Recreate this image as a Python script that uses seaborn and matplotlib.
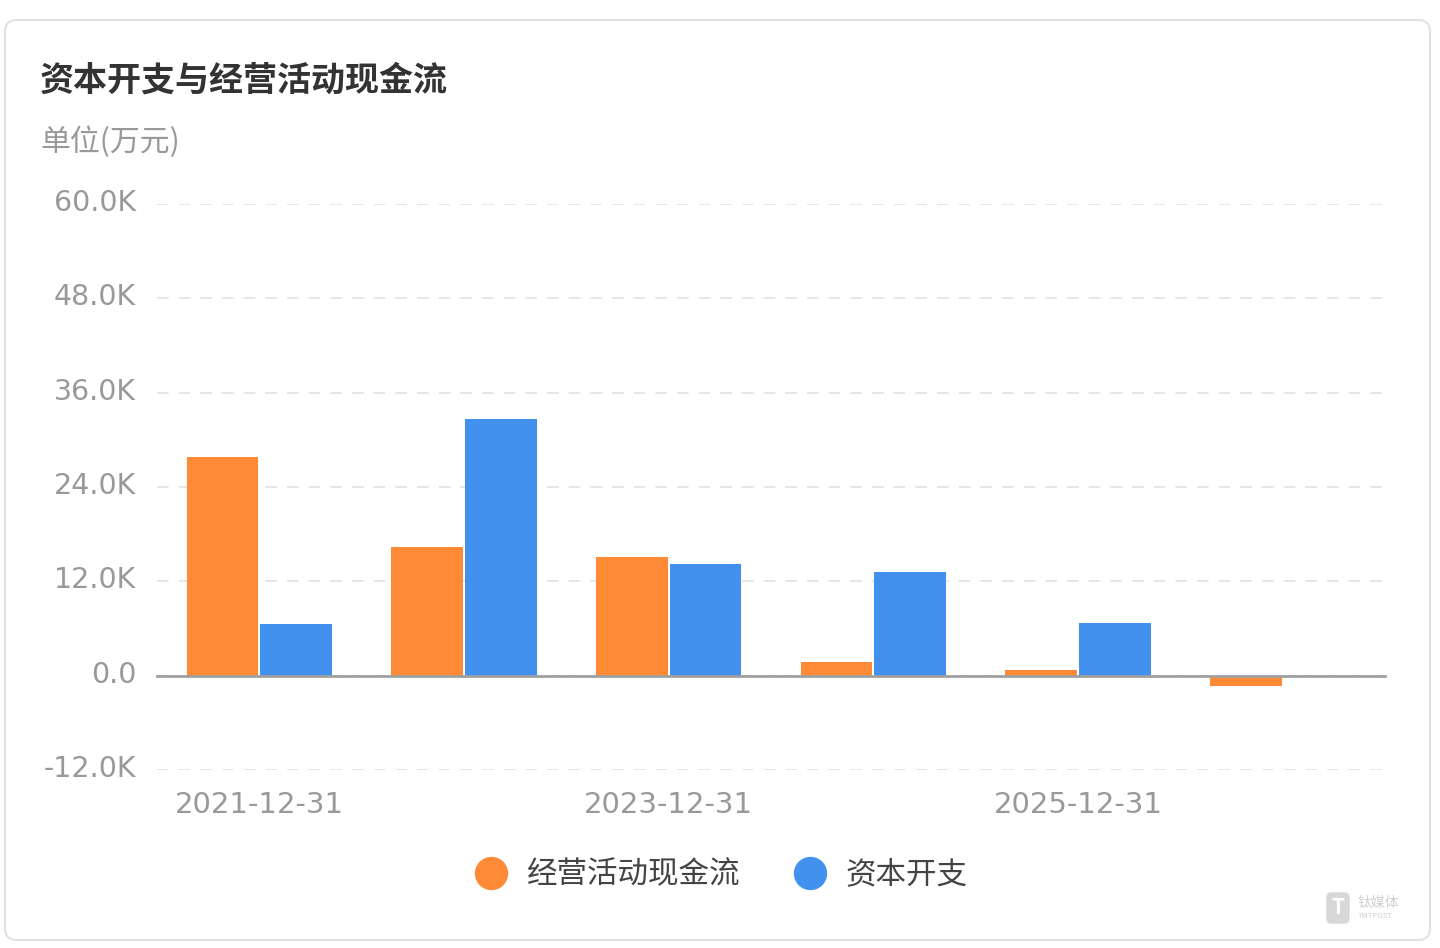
import numpy as np
import pandas as pd
import matplotlib
matplotlib.use("Agg")
import matplotlib.pyplot as plt
import seaborn as sns
from matplotlib.patches import FancyBboxPatch
from matplotlib.lines import Line2D
from matplotlib.ticker import FuncFormatter, MultipleLocator
from matplotlib.transforms import ScaledTranslation

# ---- data ----
dates = ["2021-12-31", "2022-12-31", "2023-12-31", "2024-12-31", "2025-12-31", "2026-12-31"]
series_names = ["经营活动现金流", "资本开支"]
ocf = [27800, 16400, 15100, 1800, 700, -1350]
capex = [6600, 32600, 14200, 13200, 6750, np.nan]
shown_ticks = [0, 2, 4]

title = "资本开支与经营活动现金流"
unit = "单位(万元)"

orange = "#FF8A35"
blue = "#4391EE"

sns.set_style("white")
plt.rcParams["font.family"] = ["Noto Sans CJK SC", "DejaVu Sans"]

df = pd.DataFrame({
    "date": dates * 2,
    "series": [series_names[0]] * len(dates) + [series_names[1]] * len(dates),
    "value": ocf + capex,
})

W, H = 1440, 948
fig = plt.figure(figsize=(W / 100, H / 100), dpi=100)
fig.patch.set_facecolor("white")

card = FancyBboxPatch((5 / W, 1 - 940 / H), 1425 / W, 920 / H,
                      boxstyle="round,pad=0,rounding_size=0.008",
                      mutation_aspect=W / H,
                      transform=fig.transFigure, facecolor="white",
                      edgecolor="#e2e2e2", linewidth=1.5, zorder=-5)
fig.patches.append(card)

ax = fig.add_axes([157 / W, 1 - 770 / H, (1385 - 157) / W, (770 - 204) / H])
ax.set_facecolor("none")
ax.set_zorder(2)

sns.barplot(data=df, x="date", y="value", hue="series", hue_order=series_names,
            palette=[orange, blue], width=0.72, gap=0.03, saturation=1,
            legend=False, ax=ax, zorder=3, edgecolor="none")

ax.set_xlim(-0.5, len(dates) - 0.5)
ax.set_ylim(-12000, 60000)
ax.yaxis.set_major_locator(MultipleLocator(12000))
ax.yaxis.set_major_formatter(FuncFormatter(lambda v, p: "0.0" if v == 0 else f"{v/1000:.1f}K"))
ax.set_xlabel("")
ax.set_ylabel("")

ax.grid(axis="y", color="#e2e2e2", linestyle=(0, (7, 6)), linewidth=1.2, zorder=0)
ax.grid(axis="x", visible=False)
ax.set_axisbelow(True)
for s in ["top", "right", "left"]:
    ax.spines[s].set_visible(False)
ax.spines["bottom"].set_position(("data", 0))
ax.spines["bottom"].set_color("#a0a0a0")
ax.spines["bottom"].set_linewidth(2)
ax.spines["bottom"].set_zorder(4)

ax.set_xticks(shown_ticks)
ax.set_xticklabels([dates[i] for i in shown_ticks])
ax.tick_params(axis="x", direction="out", length=5, width=1.5, color="#a0a0a0",
               pad=78, labelsize=21, labelcolor="#999999")
ax.tick_params(axis="y", length=0, pad=15, labelsize=20.5, labelcolor="#999999")
for lab in ax.get_xticklabels() + ax.get_yticklabels():
    lab.set_fontfamily("DejaVu Sans")
shift_up = ScaledTranslation(0, 4 / 100, fig.dpi_scale_trans)
for tick in ax.yaxis.get_major_ticks():
    tick.label1.set_transform(tick.label1.get_transform() + shift_up)

fig.text(40 / W, 1 - 80 / H, title, fontsize=24.5, fontweight="bold", color="#333333", va="center")
fig.text(40 / W, 1 - 142 / H, unit, fontsize=21.5, color="#999999", va="center")

handles = [Line2D([], [], marker="o", linestyle="none", markersize=23,
                  markerfacecolor=c, markeredgecolor=c) for c in (orange, blue)]
fig.legend(handles, series_names, loc="center", bbox_to_anchor=(721 / W, 1 - 875 / H),
           ncol=2, frameon=False, fontsize=22, handlelength=1.1, handletextpad=0.6,
           columnspacing=1.75, labelcolor="#444444")

# watermark
fig.text(1338 / W, 1 - 908 / H, "T", fontsize=15, fontweight="bold", color="white",
         ha="center", va="center",
         bbox=dict(boxstyle="round,pad=0.25", facecolor="#d8d8d8", edgecolor="none"))
fig.text(1358 / W, 1 - 903 / H, "钛媒体", fontsize=10, color="#d0d0d0", va="center")
fig.text(1358 / W, 1 - 916 / H, "TMTPOST", fontsize=5.5, color="#d0d0d0", va="center")

fig.savefig("out.png", dpi=100)
